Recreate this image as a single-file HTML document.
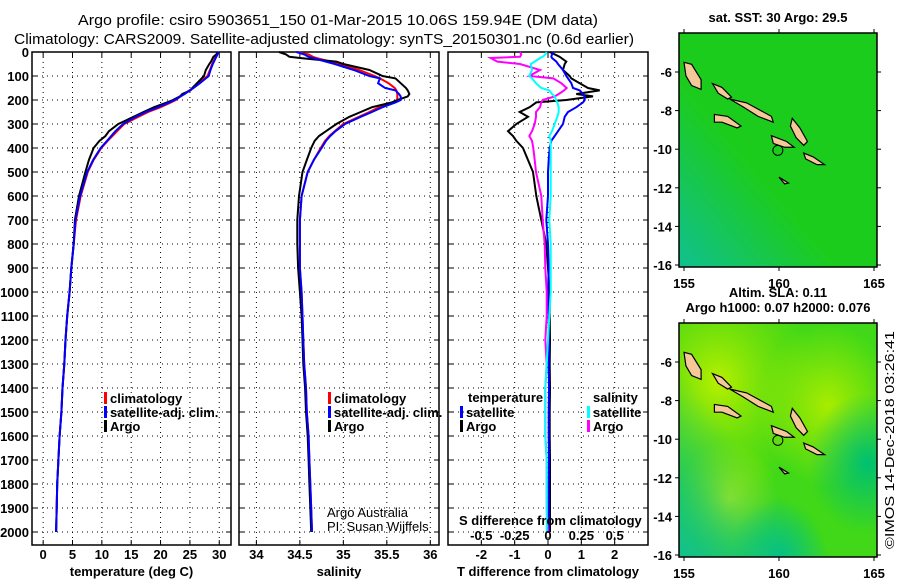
<!DOCTYPE html>
<html><head><meta charset="utf-8"><style>
html,body{margin:0;padding:0;background:#fff;width:900px;height:580px;overflow:hidden}
svg{display:block;font-family:"Liberation Sans",sans-serif}
.tk{font-size:13px;font-weight:bold}
.lg{font-size:13px;font-weight:bold}
</style></head><body>
<svg id="fig" width="900" height="580" viewBox="0 0 900 580">
<defs>
<radialGradient id="g1" cx="0.2" cy="0.25" r="0.5"><stop offset="0" stop-color="#b8f000"/><stop offset="1" stop-color="#80e000" stop-opacity="0"/></radialGradient>
<radialGradient id="g2" cx="0.25" cy="0.75" r="0.25"><stop offset="0" stop-color="#c0f000"/><stop offset="1" stop-color="#a0e800" stop-opacity="0"/></radialGradient>
<radialGradient id="g3" cx="0.95" cy="0.6" r="0.3"><stop offset="0" stop-color="#00c070"/><stop offset="1" stop-color="#00c070" stop-opacity="0"/></radialGradient>
<radialGradient id="g4" cx="0.5" cy="1" r="0.25"><stop offset="0" stop-color="#00c080"/><stop offset="1" stop-color="#00c080" stop-opacity="0"/></radialGradient>
<radialGradient id="g5" cx="0.75" cy="0.35" r="0.35"><stop offset="0" stop-color="#a8ec00"/><stop offset="1" stop-color="#a8ec00" stop-opacity="0"/></radialGradient>
<linearGradient id="g6" x1="0" y1="1" x2="0.4" y2="0.6"><stop offset="0" stop-color="#10c090"/><stop offset="1" stop-color="#10c090" stop-opacity="0"/></linearGradient>
</defs>
<text x="338" y="25" text-anchor="middle" font-size="15" textLength="520" lengthAdjust="spacingAndGlyphs">Argo profile: csiro 5903651_150 01-Mar-2015 10.06S 159.94E (DM data)</text>
<text x="324" y="44" text-anchor="middle" font-size="15" textLength="620" lengthAdjust="spacingAndGlyphs">Climatology: CARS2009. Satellite-adjusted climatology: synTS_20150301.nc (0.6d earlier)</text>
<g id="p1"></g>
<g id="p2"></g>
<g id="p3"></g>
<g id="m1"></g>
<g id="m2"></g>
<text transform="translate(894,549) rotate(-90)" font-size="13" textLength="218" lengthAdjust="spacingAndGlyphs">©IMOS 14-Dec-2018 03:26:41</text>
</svg>
<script>
// depth grid (m)
const depths = [0,10,20,25,40,50,75,100,110,130,150,160,175,185,200,210,230,250,270,300,330,350,370,400,450,500,600,700,800,900,1000,1100,1200,1300,1400,1500,1600,1700,1800,1900,2000];
// temperature (deg C)
const tempClim = [29.8,29.6,29.4,29.3,29,28.8,28.4,28,27.5,26.5,25.5,24.9,24,23.4,22.6,21.8,20,17.9,16.2,13.8,12.6,11.8,11,9.9,8.6,7.6,6.4,5.6,5.2,4.8,4.5,4.1,3.8,3.6,3.3,3.1,2.8,2.6,2.4,2.3,2.2];
const tempSat  = [29.9,29.7,29.5,29.4,29.1,28.9,28.5,28.2,27.7,26.7,25.6,25,24.1,23.4,22.4,21.5,19.6,17.5,15.8,13.6,12.3,11.6,10.9,9.8,8.5,7.5,6.3,5.5,5.2,4.8,4.5,4.1,3.8,3.6,3.3,3.1,2.8,2.6,2.4,2.3,2.2];
const tempArgo = [29.8,29.5,29,28.9,28.6,28.3,27.7,27.4,27,26.2,25.4,25.1,23.7,23.3,22.1,21.1,18.9,17.1,15.4,12.8,11.2,10.6,9.6,8.6,7.8,7.2,6.1,5.4,5.2,4.8,4.5,4.1,3.8,3.6,3.3,3.1,2.8,2.6,2.4,2.3,2.2];
// salinity (psu)
const salClim = [34.47,34.6,34.65,34.69,34.85,34.95,35.18,35.36,35.42,35.52,35.59,35.61,35.62,35.62,35.62,35.56,35.41,35.3,35.18,35.0,34.9,34.84,34.79,34.74,34.66,34.59,34.52,34.5,34.5,34.5,34.52,34.53,34.54,34.55,34.57,34.58,34.6,34.61,34.62,34.63,34.64];
const salSat  = [34.46,34.55,34.6,34.65,34.8,34.9,35.12,35.3,35.42,35.4,35.48,35.6,35.64,35.66,35.66,35.6,35.45,35.33,35.2,35.02,34.91,34.85,34.8,34.75,34.66,34.59,34.52,34.5,34.5,34.5,34.52,34.53,34.54,34.55,34.57,34.58,34.6,34.61,34.62,34.63,34.64];
const salArgo = [34.26,34.34,34.38,34.5,34.92,35.0,35.3,35.45,35.6,35.66,35.72,35.74,35.76,35.74,35.62,35.56,35.33,35.2,35.07,34.92,34.8,34.72,34.67,34.63,34.58,34.53,34.49,34.47,34.47,34.48,34.5,34.52,34.53,34.54,34.56,34.57,34.59,34.6,34.61,34.62,34.63];
// differences from climatology
const dTsat  = [0.15,0.12,0.1,0.12,0.25,0.3,0.45,0.55,0.6,0.7,0.75,0.95,1.05,1.1,1.1,1.05,0.85,0.6,0.5,0.45,0.3,0.2,0.1,0.05,0.02,0,0,-0.05,0,0.02,0,0.02,0.03,0.02,0.03,0.02,0.02,0.03,0.02,0.02,0.02];
const dTargo = [0.05,0.2,0.35,0.4,0.55,0.5,0.45,0.65,0.7,0.95,1.2,1.55,0.85,1.35,0.55,-0.35,-0.55,-0.85,-0.6,-0.95,-1.2,-1.05,-0.95,-0.75,-0.6,-0.45,-0.35,-0.2,-0.05,0,0.05,0.05,0.06,0.05,0.06,0.05,0.05,0.06,0.06,0.06,0.06];
const dSsat  = [-0.01,-0.02,-0.04,-0.06,-0.1,-0.13,-0.12,-0.14,-0.12,-0.09,-0.05,0.01,0.03,0.05,0.06,0.07,0.08,0.08,0.07,0.05,0.03,0.01,0.02,0.02,0.02,0.02,0.02,0.01,0.02,0.02,0.02,0.01,0,-0.01,-0.02,-0.02,-0.02,-0.01,-0.01,-0.01,-0.01];
const dSargo = [-0.21,-0.2,-0.21,-0.43,-0.38,-0.21,-0.06,-0.14,0.04,0.1,0.14,0.12,0.08,0.05,-0.04,-0.05,-0.06,-0.09,-0.09,-0.1,-0.12,-0.14,-0.12,-0.11,-0.1,-0.09,-0.05,-0.04,-0.025,-0.02,-0.01,-0.01,-0.02,-0.01,-0.02,-0.02,-0.02,-0.01,-0.01,-0.01,0];
const depthTicks = [0,100,200,300,400,500,600,700,800,900,1000,1100,1200,1300,1400,1500,1600,1700,1800,1900,2000];
const tTicks = [0,5,10,15,20,25,30];
const sTicks = [34,34.5,35,35.5,36];
const dTTicks = [-2,-1,0,1,2];
const dSTicks = [-0.5,-0.25,0,0.25,0.5];
const lonTicks = [155,160,165];
const latTicks = [-6,-8,-10,-12,-14,-16];

const NS='http://www.w3.org/2000/svg';
function mk(tag,attrs,parent,txt){const e=document.createElementNS(NS,tag);for(const k in attrs)e.setAttribute(k,attrs[k]);if(txt!==undefined)e.textContent=txt;parent.appendChild(e);return e;}
const TOP=52, BOT=545;
function yD(d){return TOP+d*0.24;}
function panel(g,x0,x1,xmin,xmax,ticks,labels,title){
  const xs=v=>x0+(v-xmin)/(xmax-xmin)*(x1-x0);
  ticks.forEach(t=>{const l=mk('line',{x1:xs(t),x2:xs(t),y1:TOP,y2:BOT,stroke:'#000','stroke-dasharray':'1 4','stroke-width':1},g);
    
    
    mk('line',{x1:xs(t),x2:xs(t),y1:BOT,y2:BOT-5,stroke:'#000'},g);mk('line',{x1:xs(t),x2:xs(t),y1:TOP,y2:TOP+5,stroke:'#000'},g);});
  depthTicks.forEach(d=>{const l=mk('line',{x1:x0,x2:x1,y1:yD(d),y2:yD(d),stroke:'#000','stroke-dasharray':'1 4'},g);
    
    
    mk('line',{x1:x0,x2:x0+5,y1:yD(d),y2:yD(d),stroke:'#000'},g);mk('line',{x1:x1-5,x2:x1,y1:yD(d),y2:yD(d),stroke:'#000'},g);});
  const r=mk('rect',{x:x0,y:TOP,width:x1-x0,height:BOT-TOP,fill:'none',stroke:'#000','stroke-width':1.5},g);
  
  
  ticks.forEach((t,i)=>{const tx=mk('text',{x:xs(t),y:559,'text-anchor':'middle',class:'tk'},g,labels[i]);
    
    });
  const tt=mk('text',{x:(x0+x1)/2,y:576,'text-anchor':'middle',class:'tk'},g,title);
  
  
  return xs;
}
function series(g,xs,vals,color,w,name){
  const pts=depths.map((d,i)=>xs(vals[i]).toFixed(1)+','+yD(d).toFixed(1)).join(' ');
  const p=mk('polyline',{points:pts,fill:'none',stroke:color,'stroke-width':w,'stroke-linejoin':'miter'},g);
  
  
}
function legend(g,x,y,color,label){
  mk('rect',{x:x,y:y-11,width:3,height:12,fill:color},g);
  const t=mk('text',{x:x+6,y:y,class:'lg'},g,label);
  
  
}
const fig=document.getElementById('fig');
depthTicks.forEach(d=>{const t=mk('text',{x:29,y:yD(d)+5,'text-anchor':'end',class:'tk'},fig,String(d));
  
  });

const p1=document.getElementById('p1');
const xs1=panel(p1,32,231,-1.9,32,tTicks,tTicks.map(String),'temperature (deg C)');
series(p1,xs1,tempClim,'#ff0000',2,'climatology-temperature-line');
series(p1,xs1,tempArgo,'#000000',2,'argo-temperature-line');
series(p1,xs1,tempSat,'#0000ff',2,'satellite-temperature-line');
legend(p1,104,403,'#ff0000','climatology');legend(p1,104,417,'#0000ff','satellite-adj. clim.');legend(p1,104,431,'#000000','Argo');

const p2=document.getElementById('p2');
const xs2=panel(p2,239,439,33.8,36.1,sTicks,sTicks.map(String),'salinity');
series(p2,xs2,salClim,'#ff0000',2,'climatology-salinity-line');
series(p2,xs2,salArgo,'#000000',2,'argo-salinity-line');
series(p2,xs2,salSat,'#0000ff',2,'satellite-salinity-line');
legend(p2,328,403,'#ff0000','climatology');legend(p2,328,417,'#0000ff','satellite-adj. clim.');legend(p2,328,431,'#000000','Argo');
const a1=mk('text',{x:327,y:517,'font-size':13},p2,'Argo Australia');
const a2=mk('text',{x:327,y:531,'font-size':13},p2,'PI: Susan Wijffels');

const p3=document.getElementById('p3');
const xs3=panel(p3,448,648,-3,3,dTTicks,dTTicks.map(String),'T difference from climatology');
const xsS=v=>xs3(v*4);
series(p3,xs3,dTargo,'#000000',2,'argo-temperature-difference-line');
series(p3,xs3,dTsat,'#0000ff',2,'satellite-temperature-difference-line');
series(p3,xsS,dSargo,'#ff00ff',2,'argo-salinity-difference-line');
series(p3,xsS,dSsat,'#00ffff',2,'satellite-salinity-difference-line');
const lt=mk('text',{x:468,y:402,class:'lg'},p3,'temperature');
const ls=mk('text',{x:593,y:402,class:'lg'},p3,'salinity');
legend(p3,460,417,'#0000ff','satellite');legend(p3,460,431,'#000000','Argo');
legend(p3,587,417,'#00ffff','satellite');legend(p3,587,431,'#ff00ff','Argo');
const st=mk('text',{x:459,y:525,class:'lg'},p3,'S difference from climatology');
dSTicks.forEach(s=>{const t=mk('text',{x:xsS(s),y:540,'text-anchor':'middle',class:'tk'},p3,String(s));
  
  });

const islands=[
 [[155,-5.5],[155.4,-5.6],[155.9,-6.4],[155.9,-6.9],[155.4,-6.7],[155.1,-6.2]],
 [[156.5,-6.6],[157,-6.8],[157.5,-7.3],[157.3,-7.4],[156.8,-7.1]],
 [[157.4,-7.4],[158.3,-7.6],[159.6,-8.3],[159.7,-8.6],[158.9,-8.3],[158.1,-7.8]],
 [[156.6,-8.2],[157.3,-8.3],[158,-8.8],[157.8,-8.9],[157,-8.6],[156.6,-8.6]],
 [[160.7,-8.4],[161.1,-8.9],[161.5,-9.6],[161.3,-9.8],[160.9,-9.4],[160.6,-8.8]],
 [[159.6,-9.3],[160.4,-9.6],[160.8,-9.9],[160.3,-9.9],[159.7,-9.7]],
 [[161.3,-10.2],[161.8,-10.4],[162.4,-10.8],[162,-10.8],[161.4,-10.5]],
 [[160,-11.45],[160.5,-11.75],[160.3,-11.8]]
];
function map(g,y0,titleLines,bg){
  const X=l=>684+(l-155)*19, Y=la=>y0+39+(-6-la)*19.3;
  const bgc=bg==='sst'?'#1ccc1c':'#40d818';
  mk('rect',{x:679,y:y0,width:198,height:234,fill:bgc},g);
  if(bg==='sst'){
    mk('rect',{x:679,y:y0,width:198,height:234,fill:'url(#g6)'},g);
  } else {
    ['g1','g2','g5','g3','g4','g6'].forEach(id=>mk('rect',{x:679,y:y0,width:198,height:234,fill:'url(#'+id+')'},g));
  }
  islands.forEach(poly=>{const p=mk('polygon',{points:poly.map(q=>X(q[0])+','+Y(q[1])).join(' '),fill:'#f5c89a',stroke:'#000','stroke-width':1.2},g);
    
    });
  const c=mk('circle',{cx:X(159.94),cy:Y(-10.06),r:5,fill:'none',stroke:'#000'},g);
  
  
  mk('rect',{x:679,y:y0,width:198,height:234,fill:'none',stroke:'#000','stroke-width':1.5},g);
  lonTicks.forEach(l=>{mk('line',{x1:X(l),x2:X(l),y1:y0,y2:y0-4,stroke:'#000'},g);mk('line',{x1:X(l),x2:X(l),y1:y0+234,y2:y0+238,stroke:'#000'},g);
    const t=mk('text',{x:X(l),y:y0+255,'text-anchor':'middle',class:'tk'},g,String(l));
    
    });
  latTicks.forEach(la=>{mk('line',{x1:679,x2:675,y1:Y(la),y2:Y(la),stroke:'#000'},g);mk('line',{x1:877,x2:881,y1:Y(la),y2:Y(la),stroke:'#000'},g);
    const t=mk('text',{x:672,y:Y(la)+5,'text-anchor':'end',class:'tk'},g,String(la));
    
    });
  titleLines.forEach((s,i)=>{const t=mk('text',{x:778,y:y0-26+i*15+(titleLines.length===1?15:0),'text-anchor':'middle',class:'tk'},g,s);
    
    });
}
map(document.getElementById('m1'),33,['sat. SST: 30 Argo: 29.5'],'sst');
map(document.getElementById('m2'),323,['Altim. SLA: 0.11','Argo h1000: 0.07 h2000: 0.076'],'sla');
</script>
</body></html>
